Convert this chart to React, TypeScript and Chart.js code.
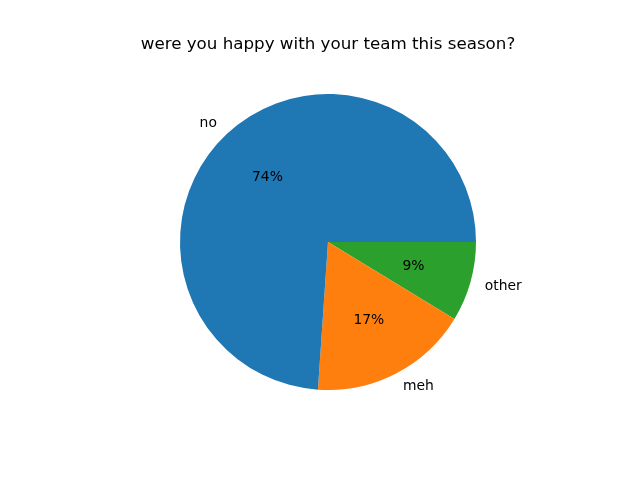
import React, { useEffect, useRef } from "react";
import { Chart, registerables } from "chart.js";

Chart.register(...registerables);

const title = "were you happy with your team this season?";
// matplotlib order (counter-clockwise from 3 o'clock)
const categories = ["no", "meh", "other"];
const values = [17, 4, 2];
const colors = ["#1f77b4", "#ff7f0e", "#2ca02c"];

const FONT = '"DejaVu Sans", sans-serif';

const labelPlugin = {
  id: "mplLabels",
  afterDraw(chart: any) {
    const ctx = chart.ctx;
    const meta = chart.getDatasetMeta(0);
    const total = values.reduce((a, b) => a + b, 0);
    ctx.save();
    ctx.fillStyle = "#000";
    // title
    ctx.font = `16.7px ${FONT}`;
    ctx.textAlign = "center";
    ctx.textBaseline = "alphabetic";
    ctx.fillText(title, 328, 49);
    ctx.font = `13.9px ${FONT}`;
    meta.data.forEach((arc: any, i: number) => {
      const { x, y, startAngle, endAngle, outerRadius } = arc.getProps(
        ["x", "y", "startAngle", "endAngle", "outerRadius"],
        true
      );
      const mid = (startAngle + endAngle) / 2;
      const c = Math.cos(mid);
      const s = Math.sin(mid);
      const idx = chart.data.datasets[0].srcIndex[i];
      // label
      const lx = x + 1.1 * outerRadius * c;
      const ly = y + 1.1 * outerRadius * s;
      ctx.textAlign = c > 0 ? "left" : "right";
      ctx.textBaseline = "middle";
      ctx.fillText(categories[idx], lx, ly);
      // percent
      const px = x + 0.6 * outerRadius * c;
      const py = y + 0.6 * outerRadius * s;
      ctx.textAlign = "center";
      ctx.fillText(`${Math.round((values[idx] / total) * 100)}%`, px, py);
    });
    ctx.restore();
  },
};

export default function App() {
  const ref = useRef<HTMLCanvasElement>(null);
  useEffect(() => {
    document.body.style.margin = "0";
    // Chart.js draws clockwise; reverse to mimic matplotlib counter-clockwise
    const order = values.map((_, i) => i).reverse();
    const chart = new Chart(ref.current!, {
      type: "pie",
      data: {
        labels: order.map((i) => categories[i]),
        datasets: [
          {
            data: order.map((i) => values[i]),
            backgroundColor: order.map((i) => colors[i]),
            borderWidth: 0,
            srcIndex: order,
          } as any,
        ],
      },
      options: {
        responsive: false,
        animation: false,
        devicePixelRatio: 1,
        rotation: 90,
        layout: { padding: { top: 94, bottom: 90, left: 180, right: 164 } },
        plugins: {
          legend: { display: false },
          title: { display: false },
          tooltip: { enabled: false },
        },
      },
      plugins: [labelPlugin],
    });
    return () => chart.destroy();
  }, []);
  return (
    <div style={{ width: 640, height: 480, background: "#fff" }}>
      <canvas ref={ref} width={640} height={480} />
    </div>
  );
}
